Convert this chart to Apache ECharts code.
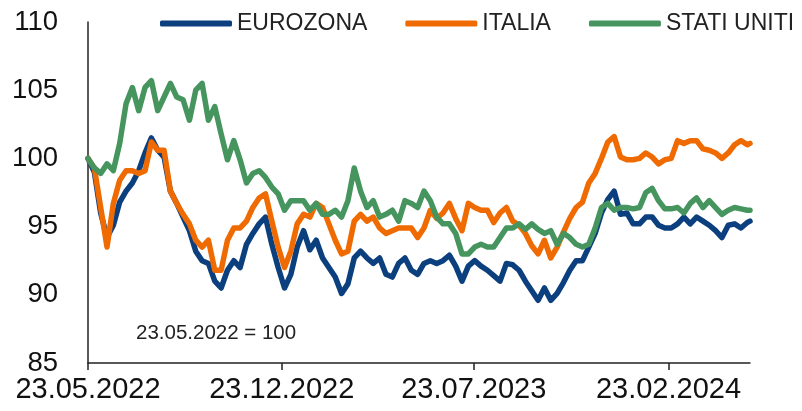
<!DOCTYPE html>
<html>
<head>
<meta charset="utf-8">
<script src="https://cdn.jsdelivr.net/npm/echarts@6/dist/echarts.min.js"></script>
<style>
html,body{margin:0;padding:0;background:#fff;}
#chart{width:802px;height:411px;}
</style>
</head>
<body>
<div id="chart"></div>
<script>
// ---- data (weekly readings from 23.05.2022, last point 23.05.2024) ----
var startDate = '2022-05-23';
var endDate = '2024-05-23';
var tickDates = ['2022-05-23', '2022-12-23', '2023-07-23', '2024-02-23'];
var seriesNames = ['EUROZONA', 'ITALIA', 'STATI UNITI'];

var eurozona = [
  100.0, 99.0, 96.0, 94.2, 95.1, 96.8, 97.6, 98.2, 99.1, 100.4,
  101.5, 100.6, 100.1, 97.6, 96.7, 95.7, 94.7, 93.2, 92.5, 92.3,
  91.0, 90.5, 91.8, 92.5, 92.0, 93.7, 94.5, 95.2, 95.7, 93.7,
  92.0, 90.5, 91.5, 93.5, 94.7, 93.3, 94.0, 92.7, 92.0, 91.3,
  90.1, 90.8, 92.7, 93.2, 92.7, 92.3, 92.7, 91.5, 91.3, 92.3,
  92.7, 91.8, 91.5, 92.3, 92.5, 92.3, 92.5, 92.9, 92.1, 91.0,
  92.1, 92.5, 92.1, 91.8, 91.4, 91.0, 92.3, 92.2, 91.8, 91.0,
  90.3, 89.6, 90.5, 89.6, 90.1, 90.9, 91.8, 92.5, 92.5, 93.5,
  94.5, 96.0, 97.0, 97.6, 95.9, 96.0, 95.2, 95.2, 95.7, 95.7,
  95.1, 94.9, 94.9, 95.2, 95.7, 95.2, 95.7, 95.4, 95.1, 94.7,
  94.2, 95.1, 95.2, 94.9, 95.3, 95.4
];
var italia = [
  100.0, 99.3, 96.4, 93.5, 96.7, 98.4, 99.1, 99.1, 98.9, 99.1,
  101.2, 100.6, 100.6, 97.6, 96.7, 95.9, 95.2, 94.0, 93.5, 94.0,
  91.8, 91.8, 94.0, 94.9, 94.9, 95.4, 96.4, 97.1, 97.4, 95.4,
  93.5, 92.0, 93.2, 95.2, 95.9, 95.7, 96.7, 96.4, 95.2, 94.0,
  93.0, 93.2, 95.4, 95.9, 95.4, 95.7, 94.9, 94.5, 94.7, 94.9,
  94.9, 94.9, 94.2, 94.9, 96.2, 95.6, 96.0, 96.7, 95.6, 94.7,
  96.7, 96.4, 96.2, 96.2, 95.3, 96.0, 96.4, 95.4, 95.1, 94.5,
  93.6, 93.0, 94.0, 92.7, 93.5, 94.6, 95.6, 96.4, 96.8, 98.2,
  98.9, 100.0, 101.2, 101.6, 100.1, 99.9, 99.9, 100.0, 100.4, 100.1,
  99.6, 99.9, 100.0, 101.3, 101.1, 101.3, 101.3, 100.7, 100.6, 100.4,
  100.0, 100.4, 101.0, 101.3, 101.0, 101.1
];
var statiUniti = [
  100.0, 99.3, 98.9, 99.6, 99.1, 101.1, 104.0, 105.2, 103.5, 105.2,
  105.7, 103.5, 104.5, 105.5, 104.5, 104.3, 102.8, 105.0, 105.5, 102.8,
  103.8, 101.8, 99.9, 101.3, 99.9, 98.2, 98.9, 99.1, 98.6, 97.9,
  97.4, 96.2, 96.9, 96.9, 96.9, 96.2, 96.7, 95.9, 95.9, 96.2,
  95.7, 96.9, 99.3, 97.6, 96.4, 96.9, 95.7, 95.9, 96.2, 95.4,
  96.9, 96.7, 96.4, 97.6, 96.9, 95.7, 95.2, 95.2, 94.5, 93.0,
  93.0, 93.5, 93.7, 93.5, 93.5, 94.2, 94.9, 94.9, 95.2, 94.8,
  95.2, 94.8, 94.5, 94.7, 93.7, 94.5, 94.2, 93.7, 93.5, 93.7,
  94.9, 96.4, 96.7, 96.2, 96.4, 96.4, 96.3, 96.4, 97.5, 97.8,
  96.9, 96.3, 96.3, 96.4, 96.0, 96.7, 97.1, 96.4, 96.9, 96.4,
  95.9, 96.2, 96.4, 96.3, 96.2, 96.2
];
var yTicks = { min: 85, max: 110, step: 5 };
var noteText = '23.05.2022 = 100';

// ---- helpers ----
var DAY = 86400000;
function parse(s) { var p = s.split('-'); return Date.UTC(+p[0], +p[1] - 1, +p[2]); }
function fmt(t) { var d = new Date(t); var y = d.getUTCFullYear(); var m = d.getUTCMonth() + 1; var dd = d.getUTCDate();
  return y + '-' + (m < 10 ? '0' : '') + m + '-' + (dd < 10 ? '0' : '') + dd; }
function label(s) { var p = s.split('-'); return p[2] + '.' + p[1] + '.' + p[0]; }

var t0 = parse(startDate), t1 = parse(endDate);
var days = [];
for (var t = t0; t <= t1; t += DAY) days.push(fmt(t));

// sample dates: weekly, the last one on the end date
function sampleDates(n) {
  var out = [];
  for (var i = 0; i < n - 1; i++) out.push(fmt(t0 + i * 7 * DAY));
  out.push(endDate);
  return out;
}
function pairs(vals) { var d = sampleDates(vals.length); return vals.map(function (v, i) { return [d[i], v]; }); }

var tickSet = {}; tickDates.forEach(function (d) { tickSet[d] = true; });
var colors = ['#0c3f7d', '#ef6a00', '#46955f'];

var chart = echarts.init(document.getElementById('chart'), null, { renderer: 'canvas' });
var font = 'Liberation Sans, Arial, sans-serif';
chart.setOption({
  animation: false,
  backgroundColor: '#ffffff',
  color: colors,
  textStyle: { fontFamily: font },
  grid: { left: 88, right: 52, top: 22, bottom: 48, containLabel: false },
  legend: {
    top: 7, left: 155,
    itemWidth: 72, itemHeight: 6, itemGap: 38,
    icon: 'roundRect',
    textStyle: { fontSize: 23, color: '#222', fontFamily: font },
    data: seriesNames
  },
  title: {
    text: noteText, left: 131, top: 318,
    textStyle: { fontSize: 20.5, fontWeight: 'normal', color: '#222', fontFamily: font }
  },
  xAxis: {
    type: 'category',
    data: days,
    boundaryGap: false,
    axisLine: { show: true, lineStyle: { color: '#222', width: 1.5 } },
    axisTick: { show: true, length: 7, lineStyle: { color: '#222', width: 1.5 },
      interval: function (i, v) { return !!tickSet[v]; } },
    axisLabel: { show: true, fontSize: 29, color: '#111', margin: 12, fontFamily: font,
      interval: function (i, v) { return !!tickSet[v]; },
      formatter: function (v) { return label(v); } },
    splitLine: { show: false }
  },
  yAxis: {
    type: 'value',
    min: yTicks.min, max: yTicks.max, interval: yTicks.step,
    axisLine: { show: true, lineStyle: { color: '#222', width: 1.5 } },
    axisTick: { show: false },
    axisLabel: { fontSize: 27.5, color: '#111', margin: 30, fontFamily: font },
    splitLine: { show: false }
  },
  series: [
    { name: seriesNames[0], type: 'line', data: pairs(eurozona), showSymbol: false, symbol: 'none',
      lineStyle: { width: 5.5, color: colors[0], cap: 'round', join: 'round' } },
    { name: seriesNames[1], type: 'line', data: pairs(italia), showSymbol: false, symbol: 'none',
      lineStyle: { width: 5.5, color: colors[1], cap: 'round', join: 'round' } },
    { name: seriesNames[2], type: 'line', data: pairs(statiUniti), showSymbol: false, symbol: 'none',
      lineStyle: { width: 5.5, color: colors[2], cap: 'round', join: 'round' } }
  ]
});
</script>
</body>
</html>
